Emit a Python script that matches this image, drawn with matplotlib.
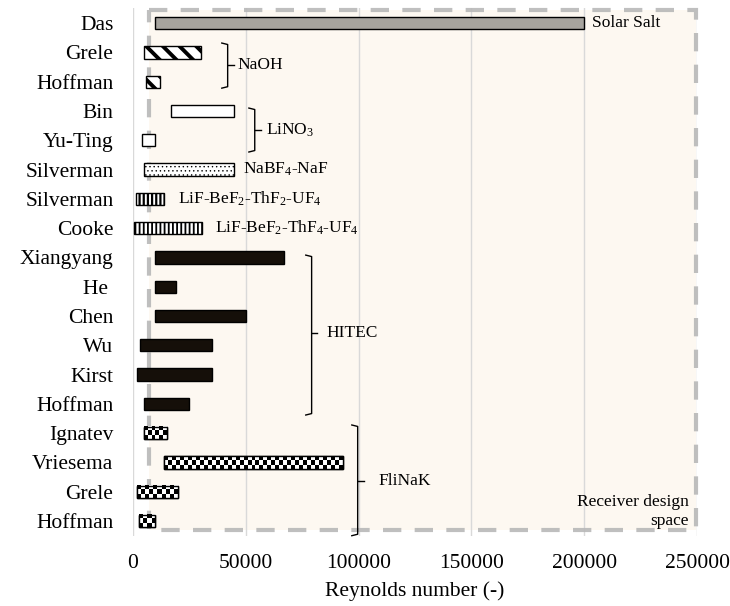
import numpy as np
import matplotlib
matplotlib.use("Agg")
import matplotlib.pyplot as plt
from matplotlib.patches import Rectangle

plt.rcParams['font.family'] = ['Liberation Serif', 'DejaVu Serif']
plt.rcParams['mathtext.default'] = 'regular'
plt.rcParams['font.size'] = 15.5

# data (Reynolds number ranges per study)
names = ["Das", "Grele", "Hoffman", "Bin", "Yu-Ting", "Silverman", "Silverman", "Cooke",
         "Xiangyang", "He ", "Chen", "Wu", "Kirst", "Hoffman",
         "Ignatev", "Vriesema", "Grele", "Hoffman"]
re_low = [10000, 5000, 6000, 17000, 4000, 5000, 1500, 500,
          10000, 10000, 10000, 3000, 2000, 5000,
          5000, 14000, 2000, 2500]
re_high = [200000, 30000, 12000, 45000, 10000, 45000, 14000, 30500,
           67000, 19000, 50000, 35000, 35000, 25000,
           15000, 93000, 20000, 10000]
fluids = ["Solar Salt", "NaOH", "NaOH", "LiNO3", "LiNO3", "NaBF4-NaF",
          "LiF-BeF2-ThF2-UF4", "LiF-BeF2-ThF4-UF4",
          "HITEC", "HITEC", "HITEC", "HITEC", "HITEC", "HITEC",
          "FliNaK", "FliNaK", "FliNaK", "FliNaK"]

styles = {
    "Solar Salt": dict(fc="#a7a49e", hatch=None, hl=1.0),
    "NaOH": dict(fc="white", hatch="\\\\", hl=2.8),
    "LiNO3": dict(fc="white", hatch=None, hl=1.0),
    "NaBF4-NaF": dict(fc="white", hatch="....", hl=0.5),
    "LiF-BeF2-ThF2-UF4": dict(fc="white", hatch="||||", hl=1.6),
    "LiF-BeF2-ThF4-UF4": dict(fc="white", hatch="||||", hl=1.3),
    "HITEC": dict(fc="#150f09", hatch=None, hl=1.0),
    "FliNaK": dict(fc="white", hatch=None, hl=1.0),
}

fig = plt.figure(figsize=(7.3, 6.06), dpi=100)
ax = fig.add_axes([0.182, 0.116, 0.773, 0.870])

y = np.arange(len(names))
h = 0.42

ax.set_xlim(0, 250000)
ax.set_ylim(len(names) - 0.5, -0.5)

# receiver design space
ax.add_patch(Rectangle((7000, -0.44), 242500, 17.74, facecolor="#fdf8f1",
                       edgecolor="none", zorder=0.5))

ax.set_xticks([0, 50000, 100000, 150000, 200000, 250000])
ax.grid(axis="x", color="#d9d9d9", lw=1, zorder=1)
ax.set_axisbelow(True)

for i in range(len(names)):
    st = styles[fluids[i]]
    b = ax.barh(y[i], re_high[i] - re_low[i], left=re_low[i], height=h,
                color=st["fc"], edgecolor="black", linewidth=1, hatch=st["hatch"], zorder=3)
    if st["hatch"]:
        try:
            b[0].set_hatch_linewidth(st["hl"])
        except AttributeError:
            pass
    if fluids[i] == "FliNaK":
        # checkered fill
        width_px = (re_high[i] - re_low[i]) / 250000 * 565
        ncol = max(2, int(round(width_px / 4.0)))
        chk = (np.indices((3, ncol)).sum(axis=0) % 2).astype(float)
        ax.imshow(chk, cmap="gray", extent=(re_low[i], re_high[i], y[i] + h / 2, y[i] - h / 2),
                  aspect="auto", interpolation="nearest", zorder=3.5)
        ax.barh(y[i], re_high[i] - re_low[i], left=re_low[i], height=h,
                color="none", edgecolor="black", linewidth=1, zorder=4)

ax.set_xlim(0, 250000)
ax.set_ylim(len(names) - 0.5, -0.5)

# dashed border of design space
ax.add_patch(Rectangle((7000, -0.44), 242500, 17.74, facecolor="none",
                       edgecolor="#b8b8b8", lw=3, linestyle=(0, (4.4, 3.2)),
                       alpha=0.9, zorder=2, clip_on=False))


def brace(x, y0, y1, ym, d=2600):
    ax.plot([x - d, x, x, x - d], [y0, y0 + 0.05, y1 - 0.05, y1], color="black", lw=1, zorder=6,
            clip_on=False)
    ax.plot([x, x + d], [ym, ym], color="black", lw=1, zorder=6, clip_on=False)


brace(42000, 0.68, 2.22, 1.42)
brace(54000, 2.9, 4.4, 3.65)
brace(79200, 7.92, 13.38, 10.58)
brace(99600, 13.72, 17.5, 15.63)

fs = 12.5
ax.text(203500, 0, "Solar Salt", va="center", ha="left", fontsize=fs)
ax.text(46500, 1.42, "NaOH", va="center", ha="left", fontsize=fs)
ax.text(58800, 3.65, "LiNO$_3$", va="center", ha="left", fontsize=fs)
ax.text(49000, 5, "NaBF$_4$-NaF", va="center", ha="left", fontsize=fs)
ax.text(20000, 6, "LiF-BeF$_2$-ThF$_2$-UF$_4$", va="center", ha="left", fontsize=fs)
ax.text(36300, 7, "LiF-BeF$_2$-ThF$_4$-UF$_4$", va="center", ha="left", fontsize=fs)
ax.text(85800, 10.58, "HITEC", va="center", ha="left", fontsize=fs)
ax.text(108800, 15.63, "FliNaK", va="center", ha="left", fontsize=fs)
ax.text(246500, 16.68, "Receiver design\nspace", va="center", ha="right", fontsize=fs,
        linespacing=1.2)

ax.set_yticks(y)
ax.set_yticklabels(names)
ax.tick_params(axis="y", length=0, pad=14)
ax.tick_params(axis="x", length=0, pad=13)
for s in ax.spines.values():
    s.set_visible(False)
ax.set_xlabel("Reynolds number (-)", labelpad=6)

fig.savefig("out.png", dpi=100)
